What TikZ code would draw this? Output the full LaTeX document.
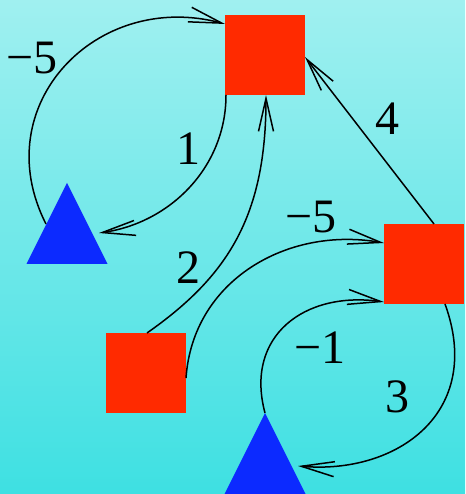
\documentclass[tikz,border=0pt]{standalone}
\usepackage{fontspec}
\setmainfont{Liberation Serif}
\usetikzlibrary{arrows.meta,shapes.geometric}
\definecolor{bgtop}{RGB}{160,240,240}
\definecolor{bgbot}{RGB}{62,224,226}
\definecolor{sqred}{RGB}{255,42,0}
\definecolor{triblue}{RGB}{12,42,255}
\begin{document}
\begin{tikzpicture}[x=1pt,y=1pt,
  sq/.style={rectangle,fill=sqred,minimum size=80pt,inner sep=0pt,outer sep=0pt},
  tri/.style={isosceles triangle,isosceles triangle stretches,shape border rotate=90,
    fill=triblue,minimum width=81pt,minimum height=81pt,inner sep=0pt,outer sep=0pt,anchor=apex},
  conn/.style={draw=black,line width=1.5pt,-{Straight Barb[length=33pt,width=15pt]}},
  lbl/.style={font=\fontsize{48}{48}\selectfont,inner sep=0pt}]
\useasboundingbox (0,0) rectangle (465,494);
\shade[top color=bgtop,bottom color=bgbot] (0,0) rectangle (465,494);
% nodes
\node[sq] (A) at (265,439) {};
\node[sq] (B) at (424,230) {};
\node[sq] (C) at (146,121) {};
\node[tri] (t1) at (67,311) {};
\node[tri] (t2) at (265,81) {};
% connectors
\draw[conn] ([shift={(-21,-41)}]t1.apex) to[out=117,in=165,distance=133pt] ([yshift=-9pt]A.north west);
\draw[conn] ([xshift=1pt]A.south west) to[out=270,in=8,distance=72pt] ([shift={(32,-50)}]t1.apex);
\draw[conn] ([xshift=1pt]C.north) to[out=35,in=270,out distance=100pt,in distance=120pt] ([xshift=1pt]A.south);
\draw[conn] ([yshift=-5pt]C.east) to[out=86,in=170,distance=98pt] ([yshift=21pt]B.west);
\draw[conn] (t2.apex) to[out=105,in=172,distance=80pt] ([yshift=2pt]B.south west);
\draw[conn] ([xshift=21pt]B.south) to[out=-70,in=-5,out distance=115pt,in distance=100pt] ([shift={(33,-53)}]t2.apex);
\draw[conn] ([xshift=10pt]B.north) -- ([yshift=-2pt]A.east);
% labels
\node[lbl] (l1) at (32,435.5) {−5};
\node[lbl] (l2) at (188,345.5) {1};
\node[lbl] (l3) at (188,226.5) {2};
\node[lbl] (l4) at (311,276.5) {−5};
\node[lbl] (l5) at (320,146.5) {−1};
\node[lbl] (l6) at (397,97.3) {3};
\node[lbl] (l7) at (387,375.7) {4};
\end{tikzpicture}
\end{document}
